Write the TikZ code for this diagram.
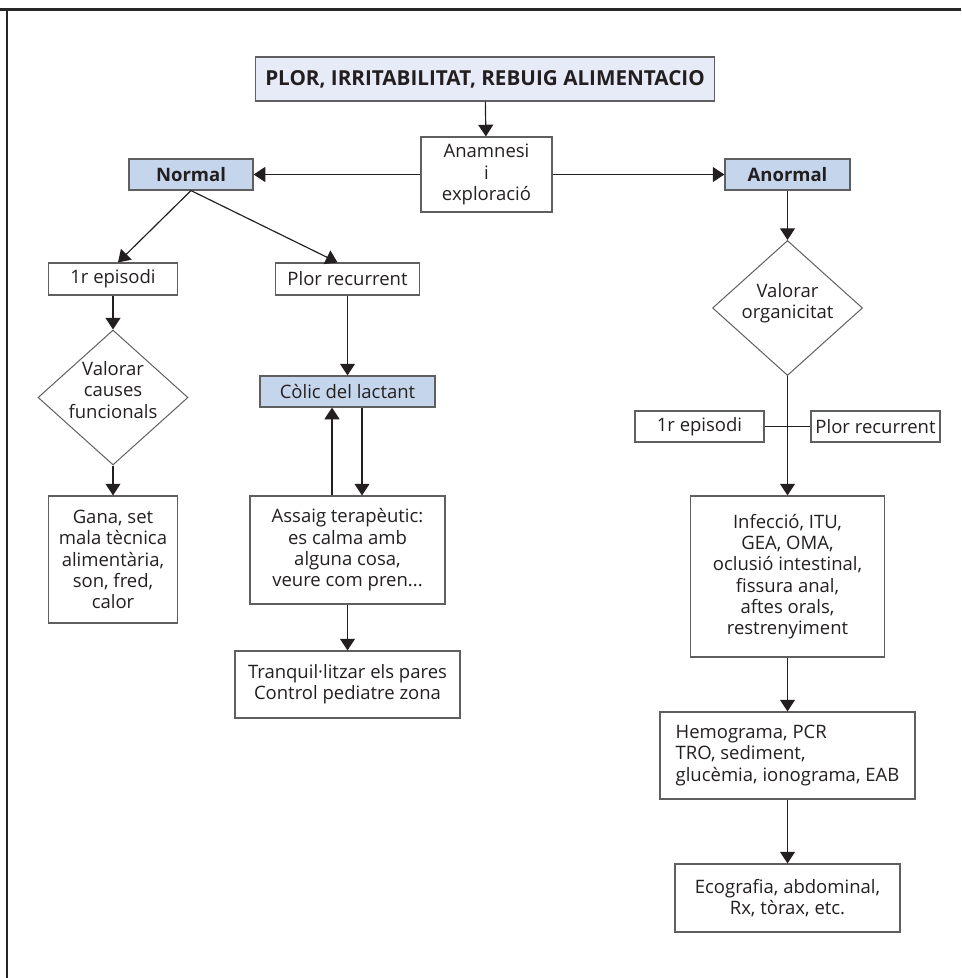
\documentclass[tikz,border=0pt]{standalone}
\usepackage{fontspec}
\setmainfont{Open Sans}
\usetikzlibrary{shapes.geometric,arrows.meta}

\definecolor{boxblue}{RGB}{197,213,235}
\definecolor{titleblue}{RGB}{231,235,247}
\definecolor{edgegray}{RGB}{95,95,95}
\definecolor{inkgray}{RGB}{35,31,32}

\tikzset{
    every node/.style={font=\fontsize{11.1}{12.8}\selectfont, text=inkgray},
    box/.style={draw=edgegray, line width=0.7pt, align=center, inner sep=0pt},
    bluebox/.style={box, fill=boxblue},
    choice/.style={diamond, draw=edgegray, line width=0.6pt, inner sep=0pt,
        minimum width=90pt, minimum height=81pt},
    arr/.style={-{Triangle[length=7pt,width=9pt]}, line width=0.7pt, draw=inkgray},
    link/.style={line width=0.7pt, draw=inkgray}
}

\begin{document}
\begin{tikzpicture}[x=0.6pt,y=-0.6pt]
        \useasboundingbox (0,0) rectangle (961,978);

        % Frame
        \draw[line width=1.6pt, draw=black!85] (0,9.5) -- (961,9.5);
        \draw[line width=1.6pt, draw=black!85] (7,9.5) -- (7,978);

        % Top of the chart
        \node[box, fill=titleblue, minimum width=275pt, minimum height=26.4pt,
            font=\fontsize{12.4}{14}\selectfont\bfseries] (title) at (485,79) {PLOR, IRRITABILITAT, REBUIG ALIMENTACIO};
        \node[box, minimum width=78.6pt, minimum height=45pt] (anam) at (486.5,174.5) {Anamnesi\\i\\exploració};
        \node[bluebox, minimum width=74.4pt, minimum height=18.6pt, font=\fontsize{11.1}{12.8}\selectfont\bfseries] (normal) at (191,174.5) {Normal};
        \node[bluebox, minimum width=75pt, minimum height=18.6pt, font=\fontsize{11.1}{12.8}\selectfont\bfseries] (anormal) at (787.5,174.5) {Anormal};

        % Normal branch, first episode
        \node[box, minimum width=77.4pt, minimum height=19.2pt] (ep1) at (113,279) {1r episodi};
        \node[choice] (valfun) at (113,397.5) {};
        \node[align=center] (valfun-text) at (113,390) {Valorar\\causes\\funcionals};
        \node[box, minimum width=77.4pt, minimum height=76.2pt] (gana) at (113,559.5) {Gana, set\\mala tècnica\\alimentària,\\son, fred,\\calor};

        % Normal branch, recurrent crying
        \node[box, minimum width=86.4pt, minimum height=19.2pt] (plorL) at (347.5,279) {Plor recurrent};
        \node[bluebox, minimum width=105pt, minimum height=18.6pt] (colic) at (347.5,391.5) {Còlic del lactant};
        \node[box, minimum width=117pt, minimum height=64.8pt] (assaig) at (347.5,550) {Assaig terapèutic:\\es calma amb\\alguna cosa,\\veure com pren...};
        \node[box, minimum width=135pt, minimum height=40.2pt] (tranq) at (347.5,684.5) {Tranquil·litzar els pares\\Control pediatre zona};

        % Abnormal branch
        \node[choice] (valorg) at (787.5,308) {};
        \node[align=center] (valorg-text) at (787.5,303) {Valorar\\organicitat};
        \node[box, minimum width=77.4pt, minimum height=18.6pt] (ep1R) at (699.5,426.5) {1r episodi};
        \node[box, minimum width=77.4pt, minimum height=18.6pt] (plorR) at (875.5,426.5) {Plor recurrent};
        \node[box, minimum width=116.4pt, minimum height=96.6pt] (infec) at (787.5,576.5) {Infecció, ITU,\\GEA, OMA,\\oclusió intestinal,\\fissura anal,\\aftes orals,\\restrenyiment};
        \node[box, minimum width=153pt, minimum height=52.2pt, align=left] (hemo) at (787.5,755.5) {Hemograma, PCR\\TRO, sediment,\\glucèmia, ionograma, EAB};
        \node[box, minimum width=135pt, minimum height=40.8pt] (eco) at (787.5,898) {Ecografia, abdominal,\\Rx, tòrax, etc.};

        % Arrows
        \draw[arr] (title) -- (anam);
        \draw[arr] (anam) -- (normal);
        \draw[arr] (anam) -- (anormal);
        \draw[arr] (normal.south) -- ([xshift=3pt]ep1.north);
        \draw[arr] (normal.south) -- ([xshift=-6pt]plorL.north);
        \draw[arr] (ep1) -- (valfun);
        \draw[arr] (valfun) -- (gana);
        \draw[arr] (plorL) -- (colic);
        \draw[arr] ([xshift=-9.3pt]assaig.north) -- ([xshift=-9.3pt]colic.south);
        \draw[arr] ([xshift=8.7pt]colic.south) -- ([xshift=8.7pt]assaig.north);
        \draw[arr] (assaig) -- (tranq);
        \draw[arr] (anormal) -- (valorg);
        \draw[link] (ep1R) -- (plorR);
        \draw[arr] (valorg) -- (infec);
        \draw[arr] (infec) -- (hemo);
        \draw[arr] (hemo) -- (eco);

    \end{tikzpicture}
\end{document}
